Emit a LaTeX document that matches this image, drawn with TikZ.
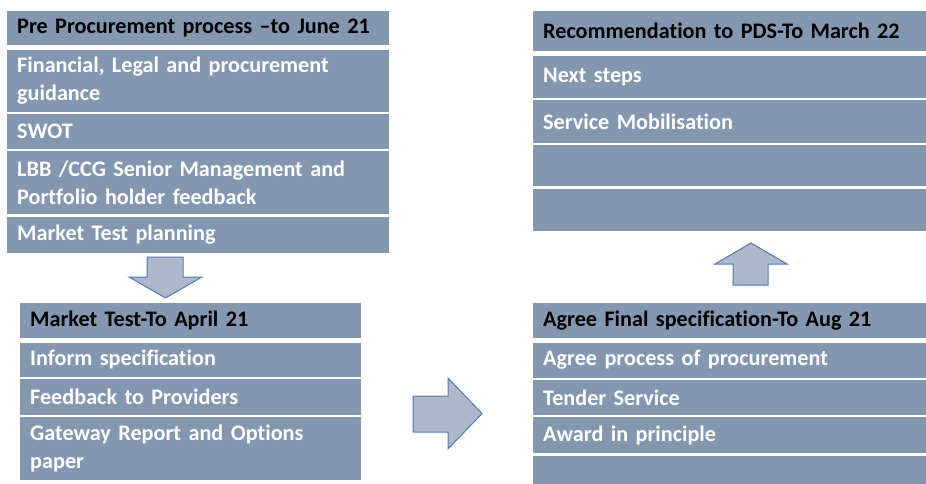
\documentclass[tikz,border=0pt]{standalone}
\usepackage{fontspec}
\setmainfont{Carlito}[Ligatures=NoCommon]
\usetikzlibrary{positioning}

\definecolor{rowfill}{HTML}{8497B0}
\definecolor{arrowfill}{HTML}{ADB9CA}
\definecolor{arrowline}{HTML}{5476B4}

\tikzset{
  row/.style={fill=rowfill, anchor=north west, inner xsep=10pt, inner ysep=0pt,
    align=left, text=white, font=\bfseries\fontsize{22.2}{28}\selectfont},
  headrow/.style={row, text=black},
  blockarrow/.style={fill=arrowfill, draw=arrowline, line width=1pt, line join=miter},
}

\begin{document}
\begin{tikzpicture}[x=1pt,y=-1pt]
\useasboundingbox (0,0) rectangle (926,484);

% pre procurement
\node[headrow, text width=362, minimum height=34] (pre) at (7,11) {Pre Procurement process \textendash to June 21};
\node[row, text width=362, minimum height=62, below right=4pt and 0pt of pre.south west] (pre1) {Financial, Legal and procurement\\guidance};
\node[row, text width=362, minimum height=35, below right=2pt and 0pt of pre1.south west] (pre2) {SWOT};
\node[row, text width=362, minimum height=63, below right=2pt and 0pt of pre2.south west] (pre3) {LBB /CCG Senior Management and\\Portfolio holder feedback};
\node[row, text width=362, minimum height=36, below right=2pt and 0pt of pre3.south west] (pre4) {Market Test planning};

% market test
\node[headrow, text width=321, minimum height=35] (mkt) at (20,303) {Market Test-To April 21};
\node[row, text width=321, minimum height=34, below right=4pt and 0pt of mkt.south west] (mkt1) {Inform specification};
\node[row, text width=321, minimum height=36, below right=2pt and 0pt of mkt1.south west] (mkt2) {Feedback to Providers};
\node[row, text width=321, minimum height=63, below right=2pt and 0pt of mkt2.south west] (mkt3) {Gateway Report and Options\\paper};

% final specification
\node[headrow, text width=373, minimum height=35] (spec) at (533,303) {Agree Final specification-To Aug 21};
\node[row, text width=373, minimum height=35, below right=4pt and 0pt of spec.south west] (spec1) {Agree process of procurement};
\node[row, text width=373, minimum height=35, below right=2pt and 0pt of spec1.south west] (spec2) {Tender Service};
\node[row, text width=373, minimum height=36, below right=2pt and 0pt of spec2.south west] (spec3) {Award in principle};
\node[row, text width=373, minimum height=32, below right=2pt and 0pt of spec3.south west] (spec4) {};

% recommendation
\node[headrow, text width=373, minimum height=40] (rec) at (533,11) {Recommendation to PDS-To March 22};
\node[row, text width=373, minimum height=42, below right=4pt and 0pt of rec.south west] (rec1) {Next steps};
\node[row, text width=373, minimum height=43, below right=2pt and 0pt of rec1.south west] (rec2) {Service Mobilisation};
\node[row, text width=373, minimum height=41, below right=2pt and 0pt of rec2.south west] (rec3) {};
\node[row, text width=373, minimum height=42, below right=2pt and 0pt of rec3.south west] (rec4) {};

% block arrows
\draw[blockarrow] (147,257) -- (183,257) -- (183,277) -- (202,277) -- (165.5,298)
  -- (129,277) -- (147,277) -- cycle;
\draw[blockarrow] (413,396) -- (448,396) -- (448,378) -- (482,413.5) -- (448,449)
  -- (448,432) -- (413,432) -- cycle;
\draw[blockarrow] (733,285) -- (733,264) -- (715,264) -- (751,243) -- (787,264)
  -- (768,264) -- (768,285) -- cycle;
\end{tikzpicture}
\end{document}
